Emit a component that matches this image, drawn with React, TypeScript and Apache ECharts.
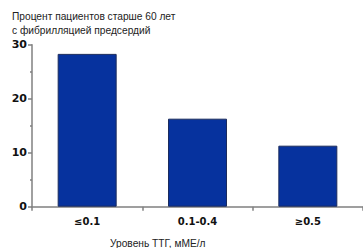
import React, { useEffect, useRef } from "react";
import * as echarts from "echarts";

const categories = ["≤0.1", "0.1-0.4", "≥0.5"];
const values = [28.3, 16.3, 11.3];
const yTicks = [0, 10, 20, 30];
const titleLines = ["Процент пациентов старше 60 лет", "с фибрилляцией предсердий"];
const xAxisTitle = "Уровень ТТГ, мМЕ/л";

export default function App() {
  const ref = useRef<HTMLDivElement>(null);
  useEffect(() => {
    if (!ref.current) return;
    const chart = echarts.init(ref.current, undefined, { renderer: "svg" });
    chart.setOption({
      animation: false,
      backgroundColor: "#ffffff",
      grid: { left: 32, top: 44.7, bottom: 41.3, width: 342, containLabel: false },
      xAxis: {
        type: "category",
        data: categories,
        boundaryGap: true,
        axisLine: { show: true, lineStyle: { color: "#808080", width: 1.5 } },
        axisTick: { show: true, length: 4, lineStyle: { color: "#808080", width: 1.5 } },
        axisLabel: {
          color: "#111",
          fontFamily: "DejaVu Sans",
          fontWeight: "bold",
          fontSize: 10,
          margin: 10,
        },
      },
      yAxis: {
        type: "value",
        min: yTicks[0],
        max: yTicks[yTicks.length - 1],
        interval: 10,
        axisLine: { show: true, lineStyle: { color: "#808080", width: 1.5 } },
        axisTick: { show: true, length: 4, lineStyle: { color: "#808080", width: 1.5 } },
        minorTick: { show: true, splitNumber: 2, length: 2, lineStyle: { color: "#808080", width: 1.5 } },
        splitLine: { show: false },
        axisLabel: {
          color: "#111",
          fontFamily: "DejaVu Sans",
          fontWeight: "bold",
          fontSize: 11,
          margin: 5,
        },
      },
      series: [
        {
          type: "bar",
          data: values,
          barWidth: 59,
          itemStyle: { color: "#06329e", borderColor: "#1b2b5c", borderWidth: 1 },
        },
      ],
      graphic: [
        {
          type: "text",
          left: 12,
          top: 10,
          style: {
            text: titleLines.join("\n"),
            font: "10.2px 'Liberation Sans', Arial, sans-serif",
            fill: "#222",
            lineHeight: 13.5,
          },
        },
        {
          type: "text",
          left: 110,
          top: 238,
          style: {
            text: xAxisTitle,
            font: "10.2px 'Liberation Sans', Arial, sans-serif",
            fill: "#222",
          },
        },
      ],
    });
    return () => chart.dispose();
  }, []);
  return <div ref={ref} style={{ width: 363, height: 248, position: "absolute", left: 0, top: 0 }} />;
}
